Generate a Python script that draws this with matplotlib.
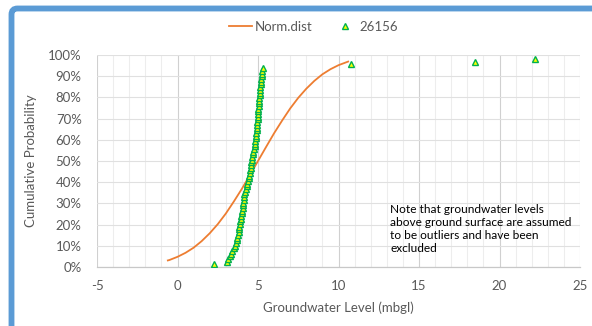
import numpy as np
import matplotlib
matplotlib.use('Agg')
import matplotlib.pyplot as plt
from matplotlib.patches import FancyBboxPatch
from matplotlib.ticker import MultipleLocator, PercentFormatter

# Observed groundwater levels (mbgl) and their cumulative probability (%)
levels = [2.25, 3.06, 3.15, 3.23, 3.30, 3.38, 3.48, 3.60, 3.65, 3.69,
          3.72, 3.75, 3.79, 3.82, 3.85, 3.88, 3.91, 3.94, 3.97, 3.99,
          4.01, 4.04, 4.06, 4.08, 4.11, 4.14, 4.16, 4.21, 4.26, 4.30,
          4.34, 4.38, 4.42, 4.46, 4.49, 4.52, 4.54, 4.56, 4.59, 4.62,
          4.65, 4.68, 4.72, 4.76, 4.79, 4.81, 4.83, 4.85, 4.87, 4.89,
          4.91, 4.93, 4.95, 4.96, 4.98, 5.00, 5.01, 5.02, 5.03, 5.05,
          5.06, 5.08, 5.09, 5.10, 5.12, 5.14, 5.15, 5.17, 5.19, 5.21,
          5.23, 5.25, 5.27, 5.30, 10.75, 18.45, 22.2]
probs = [1.3, 2.5, 3.8, 5.1, 6.3, 7.6, 8.9, 10.1, 11.4, 12.7,
         13.9, 15.2, 16.5, 17.7, 19.0, 20.3, 21.5, 22.8, 24.1, 25.3,
         26.6, 27.8, 29.1, 30.4, 31.6, 32.9, 34.2, 35.4, 36.7, 38.0,
         39.2, 40.5, 41.8, 43.0, 44.3, 45.6, 46.8, 48.1, 49.4, 50.6,
         51.9, 53.2, 54.4, 55.7, 57.0, 58.2, 59.5, 60.8, 62.0, 63.3,
         64.6, 65.8, 67.1, 68.4, 69.6, 70.9, 72.2, 73.4, 74.7, 76.0,
         77.2, 78.5, 79.7, 81.0, 82.3, 83.5, 84.8, 86.1, 87.3, 88.6,
         89.9, 91.1, 92.4, 93.7, 95.6, 96.9, 98.1]

# Normal distribution curve
norm_x = [-0.6, -0.5, 0.0, 0.5, 1.0, 1.5, 2.0, 2.5, 3.0, 3.5, 4.0, 4.5,
          5.0, 5.5, 6.0, 6.5, 7.0, 7.5, 8.0, 8.5, 9.0, 9.5, 10.0, 10.6]
norm_p = [3.1, 3.3, 4.8, 6.7, 9.1, 12.2, 15.9, 20.2, 25.2, 30.9, 36.9, 43.4,
          50.0, 56.6, 63.1, 69.1, 74.8, 79.8, 84.1, 87.8, 90.9, 93.3, 95.2, 96.9]

note = ("Note that groundwater levels\nabove ground surface are assumed\n"
        "to be outliers and have been\nexcluded")

plt.rcParams['font.family'] = ['Lato', 'DejaVu Sans']
plt.rcParams['axes.unicode_minus'] = False
grey = '#595959'

fig = plt.figure(figsize=(5.92, 3.26), dpi=100)
ax = fig.add_axes([97 / 592, 1 - 267 / 326, 483 / 592, 212 / 326])

# blue chart frame (only top and left edges fall inside the image)
frame = FancyBboxPatch((11.5, -40), 700, 318 - -40 - 0.5,
                       boxstyle='round,pad=0,rounding_size=6',
                       transform=None, fill=False, edgecolor='#5B9BD5',
                       linewidth=4.2, zorder=0)
fig.patches.append(frame)

line, = ax.plot(norm_x, norm_p, color='#ED7D31', lw=1.3, zorder=3,
                label='Norm.dist')
pts, = ax.plot(levels, probs, ls='none', marker='^', ms=4.6,
               mfc='#FFFF00', mec='#00B050', mew=1.0, zorder=4, label='26156')

ax.set_xlim(-5, 25)
ax.set_ylim(0, 100)
ax.xaxis.set_major_locator(MultipleLocator(5))
ax.xaxis.set_minor_locator(MultipleLocator(1))
ax.yaxis.set_major_locator(MultipleLocator(10))
ax.yaxis.set_major_formatter(PercentFormatter(decimals=0))

ax.grid(which='minor', axis='x', color='#EDEDED', lw=0.8)
ax.grid(which='major', axis='x', color='#D0D0D0', lw=0.8)
ax.grid(which='major', axis='y', color='#E0E0E0', lw=0.8)
ax.set_axisbelow(True)
for s in ['top', 'right', 'left']:
    ax.spines[s].set_visible(False)
ax.spines['bottom'].set_color('#C8C8C8')
ax.spines['bottom'].set_linewidth(0.9)

ax.tick_params(which='both', length=0, labelsize=9.5, labelcolor=grey)
ax.tick_params(axis='y', pad=11)
ax.tick_params(axis='x', pad=9)

ax.set_xlabel('Groundwater Level (mbgl)', fontsize=9.5, color=grey, labelpad=7)
ax.set_ylabel('Cumulative Probability', fontsize=9.5, color=grey, labelpad=8)

ax.text(13.2, 29.5, note, fontsize=8.6, color='black', va='top', ha='left',
        linespacing=1.22)

fig.legend(handles=[line, pts], loc='center', ncol=2, frameon=False,
           bbox_to_anchor=(0.53, 1 - 27 / 326), fontsize=9.5,
           labelcolor=grey, handlelength=1.7, columnspacing=1.6,
           handletextpad=0.25)

fig.savefig('out.png', dpi=100)
plt.close(fig)
